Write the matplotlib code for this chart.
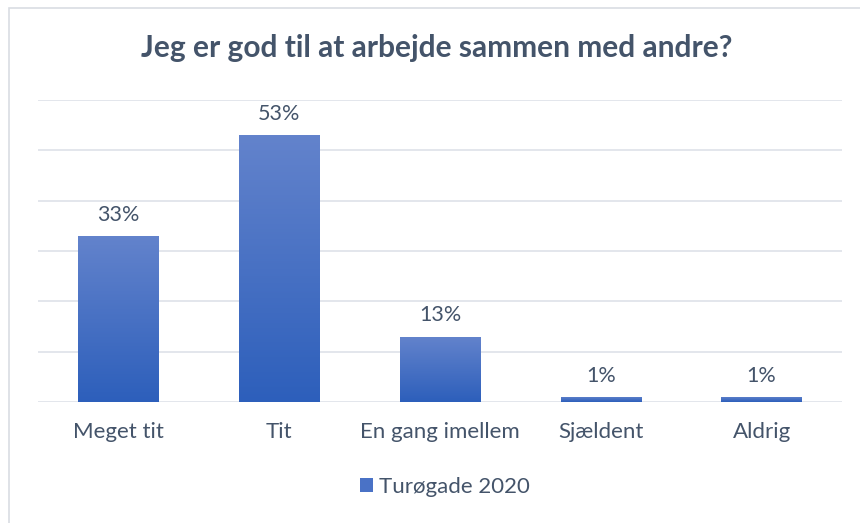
import matplotlib.pyplot as plt
import numpy as np
from matplotlib.colors import LinearSegmentedColormap
from matplotlib.patches import Rectangle

categories = ["Meget tit", "Tit", "En gang imellem", "Sjældent", "Aldrig"]
values = [33, 53, 13, 1, 1]
labels = ["33%", "53%", "13%", "1%", "1%"]
series_name = "Turøgade 2020"
title = "Jeg er god til at arbejde sammen med andre?"

TEXT = "#44546A"
GRID = "#E1E4EA"
TOP_C = "#6383CC"
BOT_C = "#2D5FBB"

plt.rcParams["font.family"] = ["Lato", "DejaVu Sans"]

fig = plt.figure(figsize=(8.6, 5.23), dpi=100)
ax = fig.add_axes([38 / 860, 1 - 402 / 523, (842 - 38) / 860, (402 - 100) / 523])

# chart frame (only left and top edges visible in crop)
fig.patches.append(Rectangle((8.5 / 860, -0.1), 1.2, 1 - 7.5 / 523 + 0.1,
                             transform=fig.transFigure, fill=False,
                             edgecolor="#D9DDE3", lw=1.2, zorder=0))

ax.set_yticks(range(0, 61, 10))
ax.yaxis.grid(True, color=GRID, lw=1.3)
ax.set_axisbelow(True)
for s in ax.spines.values():
    s.set_visible(False)
ax.tick_params(left=False, bottom=False, labelleft=False)

cmap = LinearSegmentedColormap.from_list("bar", [BOT_C, TOP_C])
grad = np.linspace(0, 1, 256).reshape(-1, 1)
w = 0.5
bars = ax.bar(range(len(categories)), values, width=w, color="none",
              edgecolor="none", label=series_name, zorder=2)
for i, (b, v) in enumerate(zip(bars, values)):
    x0 = i - w / 2
    im = ax.imshow(grad, extent=[x0, x0 + w, 0, v], origin="lower",
                   cmap=cmap, aspect="auto", zorder=2)
    im.set_clip_path(b)
    ax.annotate(labels[i], (i, v), xytext=(0, 8), textcoords="offset points",
                ha="center", va="bottom", fontsize=15.5, color=TEXT)
ax.set_xlim(-0.5, len(categories) - 0.5)
ax.set_ylim(0, 60)

ax.set_xticks(range(len(categories)))
ax.set_xticklabels(categories, fontsize=16, color=TEXT)
ax.tick_params(axis="x", pad=11)

fig.text(437 / 860, 1 - 48 / 523, title, ha="center", va="center",
         fontsize=21.5, fontweight="bold", color=TEXT)

handle = Rectangle((0, 0), 1, 1, facecolor="#4A72C6")
fig.legend([handle], [series_name], loc="center", bbox_to_anchor=(445 / 860, 1 - 487 / 523),
           frameon=False, fontsize=16, labelcolor=TEXT, handlelength=0.6,
           handleheight=0.6, handletextpad=0.25)

fig.savefig("out.png", dpi=100, facecolor="white")
